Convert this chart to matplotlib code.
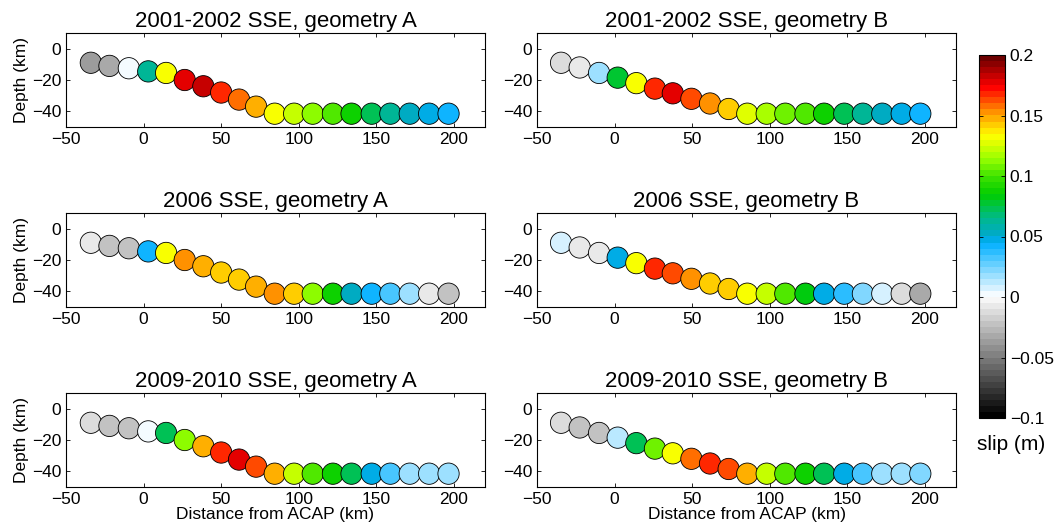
import matplotlib
matplotlib.use('Agg')
import matplotlib.pyplot as plt
import numpy as np
from matplotlib.colors import LinearSegmentedColormap, Normalize

plt.rcParams['font.family'] = ['Liberation Sans', 'DejaVu Sans']

# patch centres (km), geometry A and B
x_A = [-34, -22, -9.5, 3, 14.5, 26.5, 38.5, 50, 61.5, 72.5, 84.5, 97, 109, 122, 134, 147, 159, 171.5, 184, 196.5]
depth_A = [-9, -11, -12.5, -14.5, -15.5, -20, -24, -28, -32.5, -37, -41.5, -41.5, -41.5, -41.5, -41.5, -41.5, -41.5, -41.5, -41.5, -41.5]
x_B = [-34.5, -22.5, -10, 2, 14, 26, 37.5, 49.5, 61.5, 73.5, 85.5, 98, 110, 123, 135, 148, 160, 172.5, 185, 197]
depth_B = [-9, -12, -15.5, -18.5, -22, -25.5, -28.5, -32, -35, -38.5, -41.5, -41.5, -41.5, -41.5, -41.5, -41.5, -41.5, -41.5, -41.5, -41.5]

# slip (m) per patch
slip_2001_A = [-0.035, -0.03, 0.0, 0.065, 0.135, 0.178, 0.183, 0.17, 0.16, 0.15, 0.135, 0.12, 0.11, 0.1, 0.09, 0.075, 0.065, 0.055, 0.047, 0.042]
slip_2001_B = [-0.015, -0.01, 0.02, 0.08, 0.135, 0.17, 0.178, 0.165, 0.155, 0.142, 0.127, 0.118, 0.108, 0.1, 0.09, 0.075, 0.065, 0.055, 0.047, 0.042]
slip_2006_A = [-0.01, -0.022, -0.022, 0.042, 0.13, 0.155, 0.15, 0.142, 0.142, 0.15, 0.155, 0.142, 0.11, 0.088, 0.055, 0.042, 0.035, 0.018, -0.01, -0.024]
slip_2006_B = [0.006, -0.005, -0.005, 0.047, 0.13, 0.17, 0.163, 0.155, 0.142, 0.142, 0.135, 0.125, 0.105, 0.085, 0.047, 0.04, 0.025, 0.006, -0.015, -0.03]
slip_2009_A = [-0.015, -0.02, -0.025, 0.0, 0.075, 0.11, 0.15, 0.17, 0.178, 0.163, 0.15, 0.12, 0.1, 0.088, 0.072, 0.047, 0.035, 0.018, 0.018, 0.018]
slip_2009_B = [-0.015, -0.02, -0.025, 0.012, 0.075, 0.108, 0.135, 0.16, 0.17, 0.163, 0.15, 0.12, 0.105, 0.09, 0.072, 0.047, 0.035, 0.018, 0.018, 0.025]

titles = ['2001-2002 SSE, geometry A', '2001-2002 SSE, geometry B',
          '2006 SSE, geometry A', '2006 SSE, geometry B',
          '2009-2010 SSE, geometry A', '2009-2010 SSE, geometry B']
slips = [slip_2001_A, slip_2001_B, slip_2006_A, slip_2006_B, slip_2009_A, slip_2009_B]

# colour scale: grey below zero, then blue-green-yellow-red
cmap_vals = [-0.1, 0.0, 0.004, 0.045, 0.05, 0.065, 0.085, 0.1, 0.115, 0.13, 0.135, 0.145, 0.155, 0.165, 0.175, 0.2]
cmap_rgb = [(0, 0, 0), (255, 255, 255), (230, 246, 255), (0, 176, 255), (0, 168, 205), (0, 185, 140),
            (0, 205, 0), (60, 225, 0), (150, 255, 0), (230, 255, 0), (255, 255, 0), (255, 200, 0),
            (255, 140, 0), (255, 70, 0), (255, 0, 0), (110, 0, 0)]
pos = [min(1.0, max(0.0, round((v + 0.1) / 0.3, 6))) for v in cmap_vals]
cols = [tuple(c / 255 for c in rgb) for rgb in cmap_rgb]
cmap = LinearSegmentedColormap.from_list('slip', list(zip(pos, cols)), N=60)
norm = Normalize(-0.1, 0.2)

fig = plt.figure(figsize=(10.59, 5.31), dpi=100)
W, H = 1059, 531
lefts = [66, 537]
tops = [33, 213, 393]
aw, ah = 419, 94

for i, (title, slip) in enumerate(zip(titles, slips)):
    row, col = i // 2, i % 2
    ax = fig.add_axes([lefts[col] / W, 1 - (tops[row] + ah) / H, aw / W, ah / H])
    xs = x_A if col == 0 else x_B
    ds = depth_A if col == 0 else depth_B
    ax.scatter(xs, ds, c=slip, cmap=cmap, norm=norm, s=235, edgecolors='k', linewidths=0.6, zorder=3)
    ax.set_xlim(-50, 220)
    ax.set_ylim(-50, 10)
    ax.set_xticks([-50, 0, 50, 100, 150, 200])
    ax.set_yticks([-40, -20, 0])
    ax.tick_params(direction='in', top=True, right=True, labelsize=12.5, length=3, width=0.6)
    for s in ax.spines.values():
        s.set_linewidth(0.8)
    ax.set_title(title, fontsize=16, pad=4)
    if col == 0:
        ax.set_ylabel('Depth (km)', fontsize=12.5, labelpad=2)
    if row == 2:
        ax.set_xlabel('Distance from ACAP (km)', fontsize=12.5, labelpad=0)

cax = fig.add_axes([979 / W, 1 - 418 / H, 26 / W, (418 - 55) / H])
sm = plt.cm.ScalarMappable(cmap=cmap, norm=norm)
cb = fig.colorbar(sm, cax=cax, ticks=[-0.1, -0.05, 0, 0.05, 0.1, 0.15, 0.2])
cb.minorticks_off()
cb.ax.set_yticklabels(['\u22120.1', '\u22120.05', '0', '0.05', '0.1', '0.15', '0.2'])
cb.ax.tick_params(which='major', direction='in', left=True, right=True, labelsize=12.5, length=3, width=0.6)
cb.ax.tick_params(which='minor', length=0)
cb.outline.set_linewidth(0.8)
fig.text(1011 / W, 1 - 445 / H, 'slip (m)', fontsize=15, ha='center', va='center')

plt.savefig('out.png', dpi=100)
